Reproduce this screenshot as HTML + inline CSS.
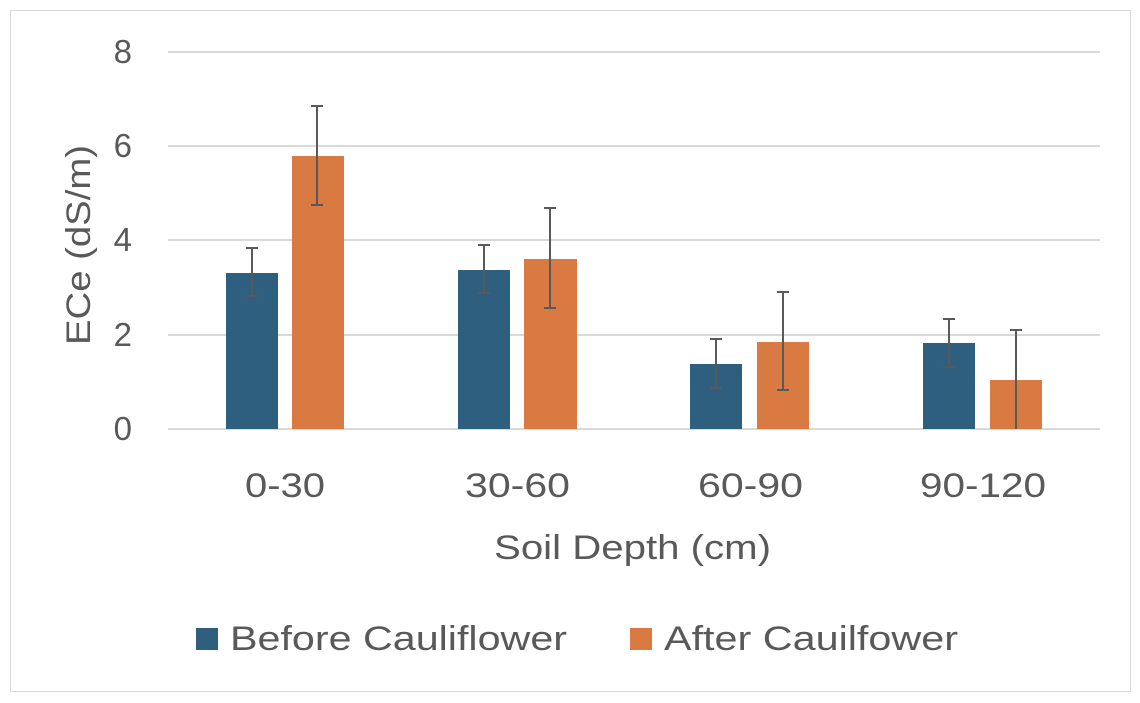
<!DOCTYPE html>
<html><head><style>
body{margin:0;background:#fff;}
svg{display:block;}
text{font-family:"Liberation Sans",sans-serif;fill:#595959;}
</style></head><body>
<svg width="1140" height="703" viewBox="0 0 1140 703">
<rect x="10.5" y="10.5" width="1120" height="681" fill="#fff" stroke="#d9d9d9"/>
<g stroke="#d9d9d9" stroke-width="2">
<line x1="168" x2="1100" y1="52" y2="52"/>
<line x1="168" x2="1100" y1="146" y2="146"/>
<line x1="168" x2="1100" y1="240" y2="240"/>
<line x1="168" x2="1100" y1="335" y2="335"/>
<line x1="168" x2="1100" y1="429" y2="429"/>
</g>
<g font-size="33" text-anchor="end">
<text x="132" y="63">8</text>
<text x="132" y="157">6</text>
<text x="132" y="251">4</text>
<text x="132" y="346">2</text>
<text x="132" y="440">0</text>
</g>
<text transform="translate(90,245) rotate(-90)" font-size="34" text-anchor="middle" textLength="200" lengthAdjust="spacingAndGlyphs">ECe (dS/m)</text>
<g fill="#2F5F7F">
<rect x="226" y="273" width="52" height="156"/>
<rect x="458" y="270" width="52" height="159"/>
<rect x="690" y="364" width="52" height="65"/>
<rect x="923" y="343" width="52" height="86"/>
</g>
<g fill="#D97A43">
<rect x="292" y="156" width="52" height="273"/>
<rect x="524" y="259" width="53" height="170"/>
<rect x="757" y="342" width="52" height="87"/>
<rect x="990" y="380" width="52" height="49"/>
</g>
<g stroke="#595959" stroke-width="2" fill="none">
<path d="M252 248V296M246 248H258M246 296H258"/>
<path d="M317 106V205M311 106H323M311 205H323"/>
<path d="M484 245V293M478 245H490M478 293H490"/>
<path d="M550 208V308M544 208H556M544 308H556"/>
<path d="M716 339V388M710 339H722M710 388H722"/>
<path d="M783 292V390M777 292H789M777 390H789"/>
<path d="M949 319V367M943 319H955M943 367H955"/>
<path d="M1016 330V429M1010 330H1022"/>
</g>
<g font-size="34">
<text x="245" y="497" textLength="80" lengthAdjust="spacingAndGlyphs">0-30</text>
<text x="465" y="497" textLength="105" lengthAdjust="spacingAndGlyphs">30-60</text>
<text x="698" y="497" textLength="105" lengthAdjust="spacingAndGlyphs">60-90</text>
<text x="920" y="497" textLength="126" lengthAdjust="spacingAndGlyphs">90-120</text>
<text x="494" y="559" textLength="277" lengthAdjust="spacingAndGlyphs">Soil Depth (cm)</text>
</g>
<rect x="196" y="628" width="22" height="22" fill="#2F5F7F"/>
<text x="230" y="650" font-size="34" textLength="337" lengthAdjust="spacingAndGlyphs">Before Cauliflower</text>
<rect x="630" y="628" width="22" height="22" fill="#D97A43"/>
<text x="664" y="650" font-size="34" textLength="294" lengthAdjust="spacingAndGlyphs">After Cauilfower</text>
</svg>
</body></html>
